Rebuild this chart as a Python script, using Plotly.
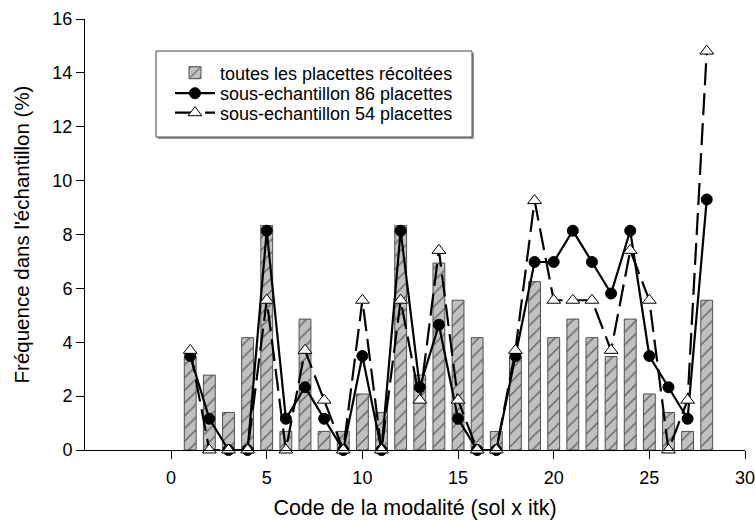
import plotly.graph_objects as go

# Code of the modality (sol x itk)
codes = list(range(1, 29))

# Frequency (%) over all harvested plots
toutes = [3.47, 2.78, 1.39, 4.17, 8.33, 0.69, 4.86, 0.69, 0.69, 2.08,
          1.39, 8.33, 2.78, 6.94, 5.56, 4.17, 0.69, 3.47, 6.25, 4.17,
          4.86, 4.17, 3.47, 4.86, 2.08, 1.39, 0.69, 5.56]

# Frequency (%) in the 86-plot subsample
sous86 = [3.49, 1.16, 0.0, 0.0, 8.14, 1.16, 2.33, 1.16, 0.0, 3.49,
          0.0, 8.14, 2.33, 4.65, 1.16, 0.0, 0.0, 3.49, 6.98, 6.98,
          8.14, 6.98, 5.81, 8.14, 3.49, 2.33, 1.16, 9.30]

# Frequency (%) in the 54-plot subsample
sous54 = [3.70, 0.0, 0.0, 0.0, 5.56, 0.0, 3.70, 1.85, 0.0, 5.56,
          0.0, 5.56, 1.85, 7.41, 1.85, 0.0, 0.0, 3.70, 9.26, 5.56,
          5.56, 5.56, 3.70, 7.41, 5.56, 0.0, 1.85, 14.81]

x_ticks = [0, 5, 10, 15, 20, 25, 30]
y_ticks = [0, 2, 4, 6, 8, 10, 12, 14, 16]

FONT = "Arial, Liberation Sans, sans-serif"

# plot area in pixels (used to place the legend block in paper units)
L, R, T, B = 85, 745, 19, 450
W, H = R - L, B - T


def px_x(p):
    return (p - L) / W


def px_y(p):
    return (B - p) / H


fig = go.Figure()

fig.add_trace(go.Bar(
    x=codes, y=toutes, width=0.62,
    name="toutes les placettes récoltées",
    legend="legend",
    marker=dict(
        color="#c0c0c0",
        line=dict(color="#505050", width=1),
        pattern=dict(shape="/", fgcolor="#000000", bgcolor="#c0c0c0",
                     size=9, solidity=0.15),
    ),
))

fig.add_trace(go.Scatter(
    x=codes, y=sous86, mode="lines+markers",
    name="sous-echantillon 86 placettes",
    legend="legend2",
    line=dict(color="black", width=2.2),
    marker=dict(symbol="circle", size=11, color="black",
                line=dict(color="black", width=1)),
    cliponaxis=False,
))

fig.add_trace(go.Scatter(
    x=codes, y=sous54, mode="lines+markers",
    name="sous-echantillon 54 placettes",
    legend="legend3",
    line=dict(color="black", width=2.2, dash="22px,8px"),
    marker=dict(symbol="triangle-up", size=12, color="white",
                line=dict(color="black", width=1)),
    cliponaxis=False,
))

# legend frame with a soft drop shadow
fig.add_shape(type="rect", xref="paper", yref="paper",
              x0=px_x(158), x1=px_x(474), y0=px_y(139), y1=px_y(53),
              fillcolor="#9a9a9a", line=dict(width=0), layer="above")
fig.add_shape(type="rect", xref="paper", yref="paper",
              x0=px_x(156), x1=px_x(472), y0=px_y(137), y1=px_y(51),
              fillcolor="white", line=dict(color="#444444", width=1), layer="above")

legend_style = dict(
    xanchor="left", yanchor="middle",
    bgcolor="rgba(0,0,0,0)", borderwidth=0,
    font=dict(family=FONT, size=18, color="black"),
    itemwidth=40,
)

fig.update_layout(
    width=755, height=522,
    margin=dict(l=L, r=755 - R, t=T, b=522 - B),
    plot_bgcolor="white", paper_bgcolor="white",
    font=dict(family=FONT, size=18, color="black"),
    barmode="overlay",
    showlegend=True,
    legend=dict(x=px_x(170), y=px_y(73), **legend_style),
    legend2=dict(x=px_x(170), y=px_y(93.5), **legend_style),
    legend3=dict(x=px_x(170), y=px_y(113), **legend_style),
    xaxis=dict(
        range=[-4.5, 30], tickmode="array", tickvals=x_ticks,
        ticks="outside", ticklen=8, tickcolor="black", tickwidth=1,
        showline=True, linecolor="black", linewidth=1,
        showgrid=False, zeroline=False, automargin=False,
        ticklabeloverflow="allow", ticklabelstandoff=3,
        tickfont=dict(size=18),
        title=dict(text="Code de la modalité (sol x itk)", standoff=13,
                   font=dict(size=21.5)),
    ),
    yaxis=dict(
        range=[0, 16], tickmode="array", tickvals=y_ticks,
        ticks="outside", ticklen=8, tickcolor="black", tickwidth=1,
        showline=True, linecolor="black", linewidth=1,
        showgrid=False, zeroline=False, automargin=False,
        tickfont=dict(size=18),
        title=dict(text="Fréquence dans l'échantillon (%)", standoff=17,
                   font=dict(size=20.5)),
    ),
)

fig.write_html("out.html")
